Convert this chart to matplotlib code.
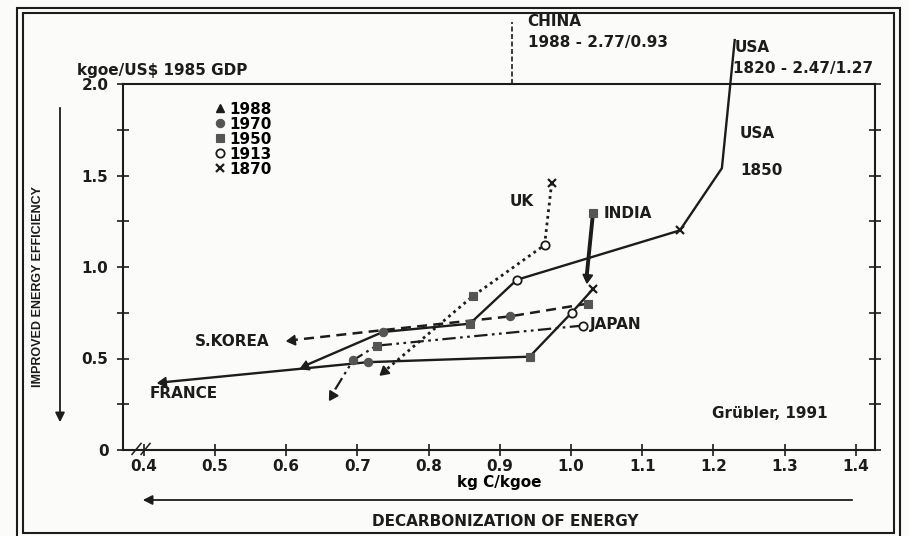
import numpy as np
import matplotlib
matplotlib.use('Agg')
import matplotlib.pyplot as plt
from matplotlib.patches import Rectangle, FancyArrowPatch
from matplotlib.lines import Line2D

plt.rcParams['font.family'] = ['DejaVu Sans']
plt.rcParams['font.weight'] = 'bold'
plt.rcParams['axes.labelweight'] = 'bold'
plt.rcParams['font.size'] = 11

# data (x: kg C/kgoe, y: kgoe/US$ 1985 GDP)
usaYears = [1820, 1850, 1870, 1913, 1950, 1970, 1988]
usaX = [1.230, 1.212, 1.153, 0.924, 0.858, 0.736, 0.626]
usaY = [2.24, 1.54, 1.20, 0.93, 0.69, 0.645, 0.46]

franceYears = [1870, 1913, 1950, 1970, 1988]
franceX = [1.031, 1.001, 0.942, 0.715, 0.427]
franceY = [0.88, 0.75, 0.51, 0.48, 0.37]

ukYears = [1870, 1913, 1950, 1988]
ukX = [0.973, 0.963, 0.862, 0.738]
ukY = [1.46, 1.12, 0.84, 0.43]

indiaYears = [1950, 1988]
indiaX = [1.031, 1.022]
indiaY = [1.295, 0.945]

japanYears = [1913, 1950, 1970, 1988]
japanX = [1.017, 0.727, 0.694, 0.664]
japanY = [0.68, 0.57, 0.49, 0.30]

koreaYears = [1950, 1970, 1980, 1988]
koreaX = [1.024, 0.914, 0.736, 0.608]
koreaY = [0.80, 0.73, 0.655, 0.60]

chinaX = 0.917
legendYears = [1988, 1970, 1950, 1913, 1870]
xticks = [0.4, 0.5, 0.6, 0.7, 0.8, 0.9, 1.0, 1.1, 1.2, 1.3, 1.4]
yticks = [0, 0.5, 1.0, 1.5, 2.0]
yticklabels = ['0', '0.5', '1.0', '1.5', '2.0']

W, H = 909, 536
ink = '#1c1c1c'
grey = '#555555'


def px(x, y):
    return x / W, 1 - y / H


fig = plt.figure(figsize=(W / 100, H / 100), dpi=100)
fig.patch.set_facecolor('#fbfbf9')
ax = fig.add_axes([123 / W, 1 - 450 / H, (875 - 123) / W, (450 - 84) / H])
ax.set_facecolor('none')
ax.set_xlim(0.371, 1.427)
ax.set_ylim(0, 2.0)

markerStyle = {
    1870: dict(marker='x', ms=6, mew=1.6, mec=ink, mfc=ink),
    1913: dict(marker='o', ms=6, mew=1.3, mec=ink, mfc='white'),
    1950: dict(marker='s', ms=6, mew=0.8, mec=grey, mfc=grey),
    1970: dict(marker='o', ms=6, mew=0.8, mec=grey, mfc=grey),
}


def draw_series(xs, ys, years, ls, lw, arrow=True):
    ax.plot(xs, ys, color=ink, ls=ls, lw=lw, clip_on=False, zorder=3)
    for x, y, yr in zip(xs, ys, years):
        if yr in markerStyle:
            ax.plot([x], [y], ls='none', zorder=4, clip_on=False, **markerStyle[yr])
    if arrow:
        p0 = ax.transData.transform((xs[-2], ys[-2]))
        p1 = ax.transData.transform((xs[-1], ys[-1]))
        ang = np.degrees(np.arctan2(p1[1] - p0[1], p1[0] - p0[0])) - 90
        ax.plot([xs[-1]], [ys[-1]], ls='none', marker=(3, 0, ang), ms=8,
                color=ink, zorder=5, clip_on=False)


draw_series(usaX, usaY, usaYears, '-', 1.7)
draw_series(franceX, franceY, franceYears, '-', 1.7)
draw_series(ukX, ukY, ukYears, (0, (1, 1.4)), 2.0)
draw_series(indiaX, indiaY, indiaYears, '-', 2.8)
draw_series(japanX, japanY, japanYears, (0, (6, 2, 1.2, 2, 1.2, 2)), 1.6)
draw_series(koreaX, koreaY, koreaYears, (0, (4, 2.5)), 1.8)

# China pointer above the frame
ax.plot([chinaX, chinaX], [2.0, 2.34], color=ink, ls=(0, (3, 1.5)), lw=1.2, clip_on=False)

# axes styling
for s in ax.spines.values():
    s.set_linewidth(1.5)
    s.set_color(ink)
ax.set_xticks(xticks)
ax.set_xticklabels([f'{t:.1f}' for t in xticks])
ax.set_yticks(yticks)
ax.set_yticklabels(yticklabels)
ax.set_yticks(np.arange(0.25, 2.0, 0.5), minor=True)
ax.tick_params(axis='both', which='both', direction='inout', length=9, width=1.2,
               colors=ink, labelsize=11)
ax.tick_params(axis='y', which='both', right=True, pad=6)
ax.tick_params(axis='x', pad=2)
ax.set_xlabel('kg C/kgoe', fontsize=11, labelpad=1)

# axis break marks
for dx in (0.012, 0.024):
    ax.plot([dx, dx + 0.012], [-0.012, 0.018], transform=ax.transAxes, color=ink,
            lw=1.1, clip_on=False)

# legend
handles = [Line2D([], [], ls='none', marker='^', ms=6, color=ink)]
for yr in legendYears[1:]:
    handles.append(Line2D([], [], ls='none', **markerStyle[yr]))
ax.legend(handles, [str(y) for y in legendYears], loc='upper left',
          bbox_to_anchor=(0.115, 0.968), frameon=False, handlelength=0.6,
          handletextpad=0.3, labelspacing=0.0, fontsize=11, borderaxespad=0)

# series labels
tx = dict(fontsize=11, color=ink, va='center', ha='left')
fig.text(*px(510, 202), 'UK', **tx)
fig.text(*px(604, 213), 'INDIA', **tx)
fig.text(*px(740, 134), 'USA', **tx)
fig.text(*px(740, 170), '1850', **tx)
fig.text(*px(195, 342), 'S.KOREA', **tx)
fig.text(*px(150, 393), 'FRANCE', **tx)
fig.text(*px(590, 325), 'JAPAN', **tx)
fig.text(*px(712, 413), 'Grübler, 1991', **tx)
fig.text(*px(527, 21), 'CHINA', **tx)
fig.text(*px(528, 43), '1988 - 2.77/0.93', **tx)
fig.text(*px(735, 47), 'USA', **tx)
fig.text(*px(733, 68), '1820 - 2.47/1.27', **tx)
fig.text(*px(77, 70), 'kgoe/US$ 1985 GDP', **tx)

# direction arrows
fig.text(*px(38, 287), 'IMPROVED ENERGY EFFICIENCY', rotation=90, fontsize=9,
         family='Liberation Sans', color=ink, ha='center', va='center')
fig.add_artist(FancyArrowPatch(px(60, 105), px(60, 425), arrowstyle='-|>',
                               mutation_scale=14, lw=1.3, color=ink,
                               transform=fig.transFigure))
fig.add_artist(FancyArrowPatch(px(855, 500), px(140, 500), arrowstyle='-|>',
                               mutation_scale=14, lw=1.3, color=ink,
                               transform=fig.transFigure))
fig.text(*px(505, 521), 'DECARBONIZATION OF ENERGY', fontsize=11, color=ink,
         ha='center', va='center')

# double frame around the figure
for (x0, y0, x1, y1) in [(17, 8, 900, 540), (23, 13, 894, 533)]:
    fig.add_artist(Rectangle(px(x0, y1), (x1 - x0) / W, (y1 - y0) / H, fill=False,
                             lw=1.5, ec=ink, transform=fig.transFigure))

fig.savefig('out.png', dpi=100, facecolor=fig.get_facecolor())
